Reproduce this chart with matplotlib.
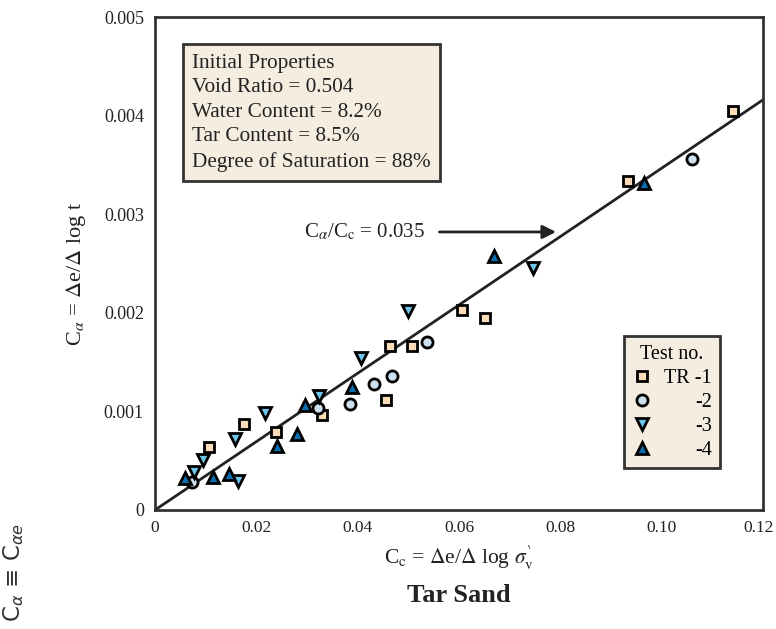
import matplotlib
matplotlib.use("Agg")
import matplotlib.pyplot as plt
import matplotlib.transforms as mtransforms

plt.rcParams['font.family'] = ['Liberation Serif', 'DejaVu Serif']
plt.rcParams['mathtext.fontset'] = 'stix'

# data
tr1_x = [0.1141, 0.0934, 0.0605, 0.0652, 0.0464, 0.0508, 0.0455, 0.0329, 0.0176, 0.0107, 0.0238]
tr1_y = [0.00405, 0.00334, 0.00203, 0.00195, 0.00166, 0.00166, 0.00112, 0.00096, 0.00087, 0.00064, 0.00079]

tr2_x = [0.1060, 0.0537, 0.0467, 0.0432, 0.0385, 0.0322, 0.0074]
tr2_y = [0.00356, 0.00170, 0.00136, 0.00128, 0.00107, 0.00103, 0.00028]

tr3_x = [0.0747, 0.0500, 0.0407, 0.0323, 0.0218, 0.0157, 0.0094, 0.0076, 0.0164]
tr3_y = [0.00245, 0.00202, 0.00154, 0.00116, 0.00098, 0.00072, 0.00051, 0.00039, 0.00029]

tr4_x = [0.0966, 0.0670, 0.0389, 0.0297, 0.0280, 0.0240, 0.0059, 0.0114, 0.0147]
tr4_y = [0.00332, 0.00258, 0.00125, 0.00106, 0.00077, 0.00065, 0.00032, 0.00033, 0.00037]

fit_x = [0, 0.12]
fit_y = [0, 0.00416]

xticks = [0, 0.02, 0.04, 0.06, 0.08, 0.10, 0.12]
xtick_labels = ['0', '0.02', '0.04', '0.06', '0.08', '0.10', '0.12']
yticks = [0, 0.001, 0.002, 0.003, 0.004, 0.005]
ytick_labels = ['0', '0.001', '0.002', '0.003', '0.004', '0.005']

props = ["Initial Properties", "Void Ratio = 0.504", "Water Content = 8.2%",
         "Tar Content = 8.5%", "Degree of Saturation = 88%"]

fig = plt.figure(figsize=(7.76, 6.29), dpi=100)
ax = fig.add_axes([155/776, 119/629, 608/776, 493/629])

ax.plot(fit_x, fit_y, color='#222222', lw=2, zorder=2)

mk = dict(ls='none', mec='black', mew=2, zorder=3)
ax.plot(tr1_x, tr1_y, marker='s', ms=7, mfc='#fbdcb8', label='TR -1', **mk)
ax.plot(tr2_x, tr2_y, marker='o', ms=8, mfc='#cde0ef', label='-2', **mk)
ax.plot(tr3_x, tr3_y, marker='v', ms=9, mfc='#6ec6ea', label='-3', **mk)
ax.plot(tr4_x, tr4_y, marker='^', ms=9, mfc='#0a6fb0', label='-4', **mk)

ax.set_xlim(0, 0.12)
ax.set_ylim(0, 0.005)
ax.set_xticks(xticks)
ax.set_xticklabels(xtick_labels)
ax.set_yticks(yticks)
ax.set_yticklabels(ytick_labels)
ax.tick_params(length=0, colors='#222222')
ax.tick_params(axis='y', pad=8, labelsize=13)
ax.tick_params(axis='x', pad=7, labelsize=12.5)
for s in ax.spines.values():
    s.set_linewidth(2)
    s.set_color('#333333')

# nudge the last x label so it stays inside the picture
last = ax.get_xticklabels()[-1]
last.set_transform(last.get_transform() + mtransforms.ScaledTranslation(-3/72, 0, fig.dpi_scale_trans))

ax.set_ylabel(r'C$_\alpha$ = $\Delta$e/$\Delta$ log t', fontsize=16, color='#222222')
ax.yaxis.set_label_coords(-0.13, 0.479)
ax.yaxis.label.set_va('center')
ax.set_xlabel(r'C$_{\rm c}$ = $\Delta$e/$\Delta$ log $\sigma_{\rm v}^{\backprime}$', fontsize=15.5,
              color='#222222')
ax.xaxis.set_label_coords(0.5, -0.097)
ax.xaxis.label.set_va('center')

# properties box
ax.text(0.061, 0.925, "\n".join(props), transform=ax.transAxes, ha='left', va='top',
        fontsize=15.3, linespacing=1.38, color='#222222',
        bbox=dict(boxstyle='square,pad=0.45', fc='#f5ede0', ec='#333333', lw=2))

# slope annotation
ax.annotate('', xy=(0.0797, 0.00282), xytext=(0.0556, 0.00282),
            arrowprops=dict(arrowstyle='-|>', color='#222222', lw=2, mutation_scale=20))
ax.text(0.0533, 0.00282, r'C$_\alpha$/C$_{\rm c}$ = 0.035', ha='right', va='center',
        fontsize=15, color='#222222')

leg = ax.legend(title='Test no.', loc='lower right', bbox_to_anchor=(0.929, 0.085),
                borderaxespad=0, fontsize=14.5, title_fontsize=14.5, frameon=True,
                fancybox=False, handletextpad=0.6, borderpad=0.4, labelspacing=0.25,
                handlelength=1.0)
leg.get_frame().set_facecolor('#f5ede0')
leg.get_frame().set_edgecolor('#333333')
leg.get_frame().set_linewidth(2)
leg.get_frame().set_alpha(1)
fig.canvas.draw()
widths = [t.get_window_extent().width for t in leg.get_texts()]
wmax = max(widths)
for t, w in zip(leg.get_texts(), widths):
    t.set_position((wmax - w, 0))

fig.text(459/776, 1 - 596/629, 'Tar Sand', ha='center', va='center', fontsize=19,
         fontweight='bold', color='#222222')
fig.text(14/776, 1 - 572/629, r'C$_\alpha$ ≡ C$_{\alpha e}$', rotation=90, ha='center',
         va='center', fontsize=16.5, family='DejaVu Sans', math_fontfamily='dejavusans',
         color='#333333')

fig.savefig('out.png', dpi=100)
